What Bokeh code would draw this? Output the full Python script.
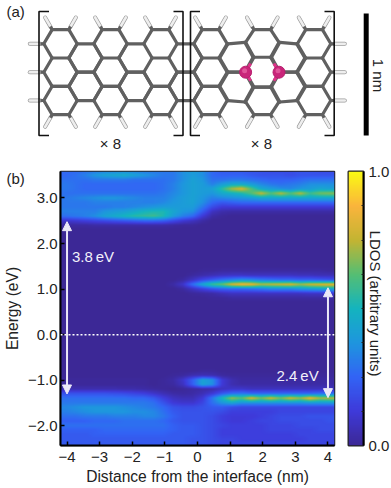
from bokeh.plotting import figure
from bokeh.models import (Range1d, FixedTicker, LinearColorMapper, Span, Label, Arrow, NormalHead)
from bokeh.layouts import column, row
from bokeh.embed import file_html
from bokeh.resources import INLINE
import numpy as np

FONT = "Liberation Sans"

# ---------- Panel (b) data ----------
POSITIONS = [-4.05, -3.75, -3.45, -3.15, -2.85, -2.55, -2.25, -1.95, -1.65, -1.35, -1.05, -0.75,
             -0.45, -0.15, 0.15, 0.45, 0.75, 1.05, 1.35, 1.65, 1.95, 2.25, 2.55, 2.85, 3.15, 3.45, 3.75, 4.05]
ENERGY_TOP = 3.6
ENERGY_STEP = 0.1
Z = [0] * 28
# rows from E=3.6 eV (top) to E=-2.4 eV (bottom), in percent of the colour scale
LDOS = [
 [26,26,28,30,32,32,34,32,30,30,30,30, 36,40,36,26, 22,22,22,20,20,18,18,18,20,20,18,18],
 [26,28,32,38,42,44,46,42,38,34,30,30, 36,40,36,26, 24,24,24,22,20,20,20,18,20,20,20,20],
 [28,28,28,30,30,30,30,28,28,28,28,30, 36,42,38,28, 28,30,30,28,26,24,24,24,26,28,28,28],
 [30,28,26,26,26,26,26,26,26,26,28,32, 38,42,40,32, 40,45,45,40,34,30,28,30,32,36,36,36],
 [30,28,26,26,26,26,26,26,26,26,28,32, 38,42,40,42, 55,72,80,62,45,40,36,34,38,40,44,42],
 [28,28,28,28,28,28,28,28,28,28,30,34, 38,42,40,38, 45,48,52,62,76,62,74,62,74,58,66,68],
 [30,32,34,36,38,38,36,34,32,32,32,36, 40,42,38,32, 34,36,38,40,44,44,44,44,44,44,44,44],
 [30,30,30,32,32,32,32,32,32,32,34,38, 40,42,36,26, 22,24,26,26,26,26,26,26,26,26,26,26],
 [30,30,30,30,30,32,32,34,36,38,40,40, 40,40,30,18, 12,12,12,12,12,12,12,12,12,12,12,12],
 [32,32,32,32,38,40,42,46,50,52,52,44, 38,36,22,8, 4,3,3,3,3,3,3,3,3,3,3,3],
 [28,30,32,36,42,46,50,54,56,58,52,40, 32,26,12,3, 1,0,0,0,0,0,0,0,0,0,0,0],
 [10,12,14,16,18,20,22,24,26,26,24,18, 12,8,3,0, 0,0,0,0,0,0,0,0,0,0,0,0],
 [2,2,2,3,3,3,3,3,3,3,3,2, 1,1,0,0, 0,0,0,0,0,0,0,0,0,0,0,0],
 Z, Z, Z, Z, Z, Z, Z, Z, Z,
 [0,0,0,0,0,0,0,0,0,0,0,0, 0,0,1,1, 2,2,2,2,2,2,2,2,2,2,2,1],
 [0,0,0,0,0,0,0,0,0,0,0,0, 0,2,4,6, 8,9,9,8,8,8,8,8,7,7,6,6],
 [0,0,0,0,0,0,0,0,0,0,0,0, 2,8,16,22, 28,32,36,34,30,28,26,26,24,24,22,20],
 [0,0,0,0,0,0,0,0,0,0,0,3, 10,28,44,58, 65,80,86,84,74,76,78,80,72,78,80,82],
 [0,0,0,0,0,0,0,0,0,0,0,0, 2,8,14,20, 24,26,26,28,30,34,34,34,38,40,42,44],
 [0,0,0,0,0,0,0,0,0,0,0,0, 0,1,2,3, 6,8,8,8,8,8,8,8,8,9,9,10],
 [0,0,0,0,0,0,0,0,0,0,0,0, 0,0,0,1, 1,2,2,2,2,2,2,2,2,2,2,2],
 Z, Z, Z, Z, Z, Z, Z, Z, Z, Z, Z, Z, Z, Z, Z,
 [0,0,0,0,0,0,0,0,0,0,0,0, 0,0,1,1, 0,0,0,0,0,0,0,0,0,0,0,0],
 [0,0,0,0,0,0,0,0,0,0,0,1, 2,5,6,5, 2,1,1,1,1,1,1,1,1,1,1,1],
 [1,1,1,1,1,1,1,1,1,0,1,3, 10,24,42,36, 12,5,2,2,2,2,2,2,2,2,2,2],
 [1,1,1,1,1,1,1,1,1,0,1,2, 8,24,42,36, 12,5,3,3,3,3,3,3,3,3,3,3],
 [5,5,5,5,5,5,4,4,3,2,1,0, 1,2,3,4, 8,10,10,8,8,8,8,8,8,8,8,8],
 [20,20,20,20,20,19,18,16,14,10,6,3, 2,3,6,12, 22,28,30,26,26,26,26,26,26,26,28,28],
 [28,28,28,28,28,28,28,26,26,22,14,8, 6,6,12,30, 50,70,62,80,66,78,66,78,70,84,72,74],
 [30,30,30,30,30,30,30,30,30,28,20,12, 10,10,16,28, 38,44,38,38,38,38,38,38,38,40,40,40],
 [34,36,38,38,38,38,36,34,32,30,26,20, 18,18,20,22, 22,18,16,16,16,16,16,16,16,16,16,16],
 [32,34,36,38,38,38,38,36,36,34,28,22, 20,20,20,20, 18,14,14,14,14,14,16,16,16,16,16,16],
 [28,28,30,30,30,32,32,32,34,34,30,24, 20,20,20,18, 14,12,12,12,14,16,18,18,18,20,20,20],
 [24,24,24,26,26,26,28,28,28,28,26,22, 20,20,20,18, 14,12,12,14,16,16,18,18,18,18,18,20],
 [28,28,28,28,28,28,28,28,28,28,28,24, 22,22,20,18, 16,14,14,14,14,16,16,16,18,18,18,18],
 [24,24,24,24,26,26,26,26,26,26,26,24, 22,22,20,18, 14,14,14,14,14,16,16,16,16,16,18,18],
 [22,22,22,24,24,24,24,24,24,24,24,22, 22,22,20,18, 14,14,14,14,14,14,14,14,16,16,16,16],
 [22,22,22,22,22,22,22,22,22,22,22,22, 22,20,20,18, 16,16,14,14,14,14,14,14,14,16,16,16],
 [22,22,22,22,22,22,22,22,22,22,22,22, 22,20,20,18, 16,16,16,16,16,16,16,16,16,16,16,16],
]
X_TICKS = [-4, -3, -2, -1, 0, 1, 2, 3, 4]
X_LABELS = ["\u22124", "\u22123", "\u22122", "\u22121", "0", "1", "2", "3", "4"]
Y_TICKS = [-2, -1, 0, 1, 2, 3]
Y_LABELS = ["\u22122.0", "\u22121.0", "0.0", "1.0", "2.0", "3.0"]
ARROW_X = [-4.0, 4.0]
ARROW_LOW = [-1.3, -1.38]
ARROW_HIGH = [2.48, 1.03]
ARROW_TEXT = ["3.8\u2009eV", "2.4\u2009eV"]
ARROW_TEXT_X = [-3.85, 2.42]
ARROW_TEXT_Y = [1.72, -0.9]

BAR_COLOURS = [(60,40,150),(62,58,218),(50,100,245),(30,150,222),(20,180,190),
               (85,190,115),(195,180,50),(250,180,60),(250,250,20)]

def make_palette(n=256):
    a = np.array(BAR_COLOURS, float)
    t = np.linspace(0, len(a) - 1, n)
    return ["#%02x%02x%02x" % tuple(int(round(np.interp(v, range(len(a)), a[:, c]))) for c in range(3)) for v in t]

PALETTE = make_palette()
mapper = LinearColorMapper(palette=PALETTE, low=0, high=100)

# ---------- Panel (a) structure ----------
SCALE = 12.2            # px per angstrom
BOND = 16.7 / SCALE
COL_STEP_L = 25.0 / SCALE
COL_STEP_R = 25.9 / SCALE
COL0_X = 60.0 / SCALE
ROW_Y = [43.3 / SCALE, 71.7 / SCALE, 100.0 / SCALE]
N_COLS = 11
BRACKETS = [(38.5, 48.5, 182.5, 173), (190, 199.5, 333.7, 324)]
BRACKET_TOP = 11.0
BRACKET_BOTTOM = 135.0
BAR_X = 365.7
BAR_TOP = 13.0
BAR_BOTTOM = 135.0

def col_x(k):
    if k <= 6:
        return COL0_X + k * COL_STEP_L
    return COL0_X + 6 * COL_STEP_L + (k - 6) * COL_STEP_R

def hex_vertices(cx, cy):
    h = (ROW_Y[1] - ROW_Y[0]) / 2
    return [(cx - BOND, cy), (cx - BOND / 2, cy - h), (cx + BOND / 2, cy - h),
            (cx + BOND, cy), (cx + BOND / 2, cy + h), (cx - BOND / 2, cy + h)]

bonds = {}
def vkey(p):
    return (round(p[0], 2), round(p[1], 2))

dop_cx = col_x(8)
def shift(p):
    x, y = p
    mid = ROW_Y[1]
    # relaxation around the two dopant atoms
    if abs(x - dop_cx) < 1.6 * BOND:
        dy = y - mid
        if abs(abs(dy) - (ROW_Y[1] - ROW_Y[0])) < 0.1:
            y = mid + np.sign(dy) * (abs(dy) + 0.12)
        elif abs(abs(dy) - (ROW_Y[1] - ROW_Y[0]) / 2) < 0.1:
            y = mid + np.sign(dy) * (abs(dy) + 0.06)
    return (x, y)

for k in range(N_COLS):
    cx = col_x(k)
    if k % 2 == 0:
        centres = ROW_Y
    else:
        centres = [(ROW_Y[0] + ROW_Y[1]) / 2, (ROW_Y[1] + ROW_Y[2]) / 2]
    for cy in centres:
        vs = hex_vertices(cx, cy)
        for i in range(6):
            a, b = vs[i], vs[(i + 1) % 6]
            key = tuple(sorted((vkey(a), vkey(b))))
            bonds[key] = (shift(a), shift(b))

cc_x = [[b[0][0], b[1][0]] for b in bonds.values()]
cc_y = [[b[0][1], b[1][1]] for b in bonds.values()]

# C-H sticks
h_in = []
h_len = 14.0 / SCALE
for k, sgn_x in ((0, -1), (10, 1)):
    for y in ROW_Y:
        base = (col_x(k) + sgn_x * BOND, y)
        h_in.append((base, (base[0] + sgn_x * h_len, y)))
top_y = ROW_Y[0] - (ROW_Y[1] - ROW_Y[0]) / 2
bot_y = ROW_Y[2] + (ROW_Y[1] - ROW_Y[0]) / 2
for k in (0, 2, 4, 6, 8, 10):
    for side in (-1, 1):
        for yy, sgn_y in ((top_y, -1), (bot_y, 1)):
            base = (col_x(k) + side * BOND / 2, yy)
            h_in.append((base, (base[0] + side * 0.5 * h_len, yy + sgn_y * 0.866 * h_len)))

DOPANT_X = [dop_cx - BOND, dop_cx + BOND]
DOPANT_Y = [ROW_Y[1], ROW_Y[1]]

# ---------- Figure (a), whose frame also carries the outer texts of panel (b) ----------
PAGE_W, PAGE_H = 391, 488
TOP_H = 155
fa = figure(width=PAGE_W, height=PAGE_H, output_backend="svg", toolbar_location=None,
            x_range=Range1d(0, PAGE_W / SCALE), y_range=Range1d(PAGE_H / SCALE, 0),
            min_border=0, outline_line_color=None, background_fill_color=None, border_fill_color=None)
fa.axis.visible = False
fa.grid.visible = False

wx = [[a[0] + (b[0] - a[0]) * 0.22, b[0]] for a, b in h_in]
wy = [[a[1] + (b[1] - a[1]) * 0.22, b[1]] for a, b in h_in]
fa.multi_line(wx, wy, line_color="#9a9a9a", line_width=4.0, line_cap="round")
fa.multi_line(wx, wy, line_color="#eeeeee", line_width=2.6, line_cap="round")
hx = [[a[0], a[0] + (b[0] - a[0]) * 0.25] for a, b in h_in]
hy = [[a[1], a[1] + (b[1] - a[1]) * 0.25] for a, b in h_in]
fa.multi_line(hx, hy, line_color="#606060", line_width=3.2)
fa.multi_line(cc_x, cc_y, line_color="#606060", line_width=3.2, line_cap="round")

# half bonds and dopant atoms
px_, py_ = [], []
for dx, sgn in zip(DOPANT_X, (1, -1)):
    for ang in (np.pi / 3, -np.pi / 3):
        px_.append([dx, dx + sgn * np.cos(ang) * 10 / SCALE])
        py_.append([ROW_Y[1], ROW_Y[1] + np.sin(ang) * 10 / SCALE])
fa.multi_line(px_, py_, line_color="#e0338a", line_width=3.0)
fa.scatter(DOPANT_X, DOPANT_Y, size=12, color="#c9257a", line_color="#b81f6e")
fa.scatter([x - 1 / SCALE for x in DOPANT_X], [y - 1.5 / SCALE for y in DOPANT_Y], size=5, color="#e0559a", line_color=None)

for l0, l1, r0, r1 in BRACKETS:
    ys = [BRACKET_TOP / SCALE, BRACKET_TOP / SCALE, BRACKET_BOTTOM / SCALE, BRACKET_BOTTOM / SCALE]
    fa.line([l1 / SCALE, l0 / SCALE, l0 / SCALE, l1 / SCALE], ys, line_color="#111111", line_width=1.6)
    fa.line([r1 / SCALE, r0 / SCALE, r0 / SCALE, r1 / SCALE], ys, line_color="#111111", line_width=1.6)

fa.line([BAR_X / SCALE] * 2, [BAR_TOP / SCALE, BAR_BOTTOM / SCALE], line_color="black", line_width=5.0)

fa.add_layout(Label(x=6 / SCALE, y=11 / SCALE, text="(a)", text_font=FONT, text_font_size="15px",
                    text_baseline="middle", text_color="#222222"))
fa.add_layout(Label(x=6 / SCALE, y=178 / SCALE, text="(b)", text_font=FONT, text_font_size="15px",
                    text_baseline="middle", text_color="#222222"))
for txt, xp in (("\u00d7 8", 110), ("\u00d7 8", 261)):
    fa.add_layout(Label(x=xp / SCALE, y=143 / SCALE, text=txt, text_font=FONT, text_font_size="15px",
                        text_align="center", text_baseline="middle", text_color="#222222"))
fa.add_layout(Label(x=378 / SCALE, y=75 / SCALE, text="1 nm", text_font=FONT, text_font_size="15px",
                    text_align="center", text_baseline="middle", angle=-np.pi / 2, text_color="#222222"))
fa.add_layout(Label(x=375 / SCALE, y=303 / SCALE, text="LDOS (arbitrary units)", text_font=FONT, text_font_size="15px",
                    text_align="center", text_baseline="middle", angle=-np.pi / 2, text_color="#222222"))

# ---------- Figure (b) ----------
X0, X1, Y0, Y1 = -4.2, 4.2, -2.43, 3.58
fb = figure(width=338, height=333, frame_width=274, frame_height=274, output_backend="svg", toolbar_location=None,
            x_range=Range1d(X0, X1), y_range=Range1d(Y0, Y1),
            min_border_left=60, min_border_right=4, min_border_top=16, min_border_bottom=43,
            background_fill_color=None, border_fill_color=None)
fb.grid.visible = False

# smooth shading of the read grid for display (as the reference's interpolated shading)
energies = ENERGY_TOP - ENERGY_STEP * np.arange(len(LDOS))
grid = np.array(LDOS, dtype=float)[::-1]
e_asc = energies[::-1]
gx = np.linspace(X0, X1, 274 * 2)
gy = np.linspace(Y0, Y1, 274 * 2)
by_y = np.array([np.interp(gy, e_asc, grid[:, j]) for j in range(grid.shape[1])]).T
shaded = np.array([np.interp(gx, POSITIONS, by_y[i, :]) for i in range(by_y.shape[0])])
fb.image(image=[shaded], x=X0, y=Y0, dw=X1 - X0, dh=Y1 - Y0, color_mapper=mapper)

fb.xaxis.ticker = FixedTicker(ticks=X_TICKS)
fb.xaxis.major_label_overrides = dict(zip(X_TICKS, X_LABELS))
fb.yaxis.ticker = FixedTicker(ticks=Y_TICKS)
fb.yaxis.major_label_overrides = dict(zip(Y_TICKS, Y_LABELS))
fb.xaxis.axis_label = "Distance from the interface (nm)"
fb.yaxis.axis_label = "Energy (eV)"
for ax in (fb.xaxis[0], fb.yaxis[0]):
    ax.axis_label_text_font = FONT
    ax.axis_label_text_font_style = "normal"
    ax.axis_label_text_font_size = "15.6px"
    ax.axis_label_text_color = "#222222"
    ax.major_label_text_font = FONT
    ax.major_label_text_font_size = "15px"
    ax.major_label_text_color = "#222222"
    ax.major_tick_in = 4
    ax.major_tick_out = 0
    ax.minor_tick_in = 0
    ax.minor_tick_out = 0
    ax.major_tick_line_color = "black"
    ax.major_tick_line_width = 1.5
    ax.axis_line_color = "black"
    ax.axis_line_width = 2
fb.xaxis[0].major_label_standoff = 6
fb.xaxis[0].axis_label_standoff = 3
fb.yaxis[0].major_label_standoff = 3
fb.yaxis[0].axis_label_standoff = 4
fb.outline_line_color = "#222222"
fb.outline_line_width = 1.5

fb.add_layout(Span(location=0, dimension="width", line_color="white", line_width=1.5, line_dash="2 2"))
for x0, y0, y1 in zip(ARROW_X, ARROW_LOW, ARROW_HIGH):
    head_a = NormalHead(size=9, fill_color="#ebe8f7", line_color="#ebe8f7", line_width=1)
    head_b = NormalHead(size=9, fill_color="#ebe8f7", line_color="#ebe8f7", line_width=1)
    fb.add_layout(Arrow(start=head_a, end=head_b, x_start=x0, y_start=y0, x_end=x0, y_end=y1,
                        line_color="#ebe8f7", line_width=2))
for t, x0, y0 in zip(ARROW_TEXT, ARROW_TEXT_X, ARROW_TEXT_Y):
    fb.add_layout(Label(x=x0, y=y0, text=t, text_font=FONT, text_font_size="15px", text_color="#f2f0fa",
                        text_baseline="middle"))

# ---------- Colour bar ----------
CB_TICKS = [0, 1]
CB_MINOR = [0.125, 0.25, 0.375, 0.5, 0.625, 0.75, 0.875]
fc = figure(width=53, height=333, frame_width=15, frame_height=274, output_backend="svg", toolbar_location=None,
            x_range=Range1d(0, 1), y_range=Range1d(0, 1), y_axis_location="right",
            min_border_left=10, min_border_right=28, min_border_top=16, min_border_bottom=43,
            background_fill_color=None, border_fill_color=None)
fc.grid.visible = False
fc.xaxis.visible = False
grad = np.linspace(0, 100, 256).reshape(256, 1)
fc.image(image=[grad], x=0, y=0, dw=1, dh=1, color_mapper=mapper)
ax = fc.yaxis[0]
ax.ticker = FixedTicker(ticks=CB_TICKS, minor_ticks=CB_MINOR)
ax.major_label_overrides = {0: "0.0", 1: "1.0"}
ax.major_label_text_font = FONT
ax.major_label_text_font_size = "15px"
ax.major_label_text_color = "#222222"
ax.major_tick_in = 0
ax.major_tick_out = 0
ax.minor_tick_in = 2
ax.minor_tick_out = 0
ax.minor_tick_line_color = "#222222"
ax.axis_line_color = "black"
ax.axis_line_width = 2
ax.major_label_standoff = 5
fc.outline_line_color = "#222222"
fc.outline_line_width = 2

lower = row(fb, fc, spacing=0, margin=(TOP_H - PAGE_H, 0, 0, 0))
layout = column(fa, lower, spacing=0)
open("out.html", "w").write(file_html(layout, INLINE))
